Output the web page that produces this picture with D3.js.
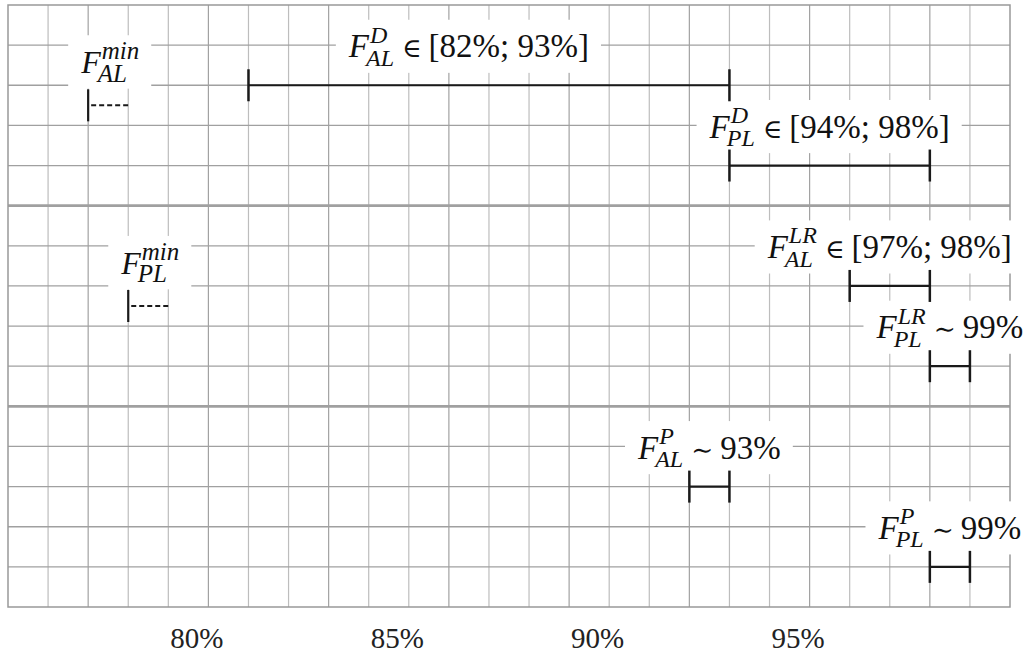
<!DOCTYPE html>
<html>
<head>
<meta charset="utf-8">
<script src="https://cdn.jsdelivr.net/npm/d3@7/dist/d3.min.js"></script>
<style>
  html, body { margin: 0; padding: 0; background: #fff; }
  svg { display: block; }
</style>
</head>
<body>
<svg id="chart" width="1023" height="653"></svg>
<script>
// ---------- data ----------
const xDomain = [75, 100];          // percent
const rowCount = 15;                // grid rows
const tickValues = [80, 85, 90, 95];
const tickLabels = ["80%", "85%", "90%", "95%"];

// interval bars
const barSub   = ["AL", "PL", "AL", "PL", "AL", "PL"];
const barSup   = ["D", "D", "LR", "LR", "P", "P"];
const barRel   = ["∈", "∈", "∈", "∼", "∼", "∼"];
const barText  = ["[82%; 93%]", "[94%; 98%]", "[97%; 98%]", "99%", "93%", "99%"];
const barStart = [81, 93, 96, 98, 92, 98];
const barEnd   = [93, 98, 98, 99, 93, 99];
const barRow   = [2, 4, 7, 9, 12, 14];
const barLabelShift = [-0.5, 0, 0, 0, 0, 0];   // label centre offset (percent units)

// minimum markers (dashed)
const minSub   = ["AL", "PL"];
const minStart = [77, 78];
const minEnd   = [78, 79];
const minRow   = [2.5, 7.5];

// ---------- layout ----------
const svg = d3.select("#chart");
const x = d3.scaleLinear().domain(xDomain).range([8, 1010]);
const y = d3.scaleLinear().domain([0, rowCount]).range([5, 607]);

const serif = "'Liberation Serif', 'Times New Roman', serif";

// grid
const grid = svg.append("g");
grid.selectAll("line.v")
  .data(d3.range(xDomain[0] + 1, xDomain[1]))
  .join("line")
  .attr("x1", d => x(d)).attr("x2", d => x(d))
  .attr("y1", y(0)).attr("y2", y(rowCount))
  .attr("stroke", (d, i) => (i % 3 === 1 ? "#a2a2a2" : "#bdbdbd"))
  .attr("stroke-width", 1.2);
grid.selectAll("line.h")
  .data(d3.range(1, rowCount))
  .join("line")
  .attr("x1", x(xDomain[0])).attr("x2", x(xDomain[1]))
  .attr("y1", d => y(d)).attr("y2", d => y(d))
  .attr("stroke", "#a0a0a0")
  .attr("stroke-width", d => (d % 5 === 0 ? 2.6 : 1.3));
grid.append("rect")
  .attr("x", x(xDomain[0])).attr("y", y(0))
  .attr("width", x(xDomain[1]) - x(xDomain[0]))
  .attr("height", y(rowCount) - y(0))
  .attr("fill", "none").attr("stroke", "#999").attr("stroke-width", 1.5);

// axis (tick labels only)
const axis = d3.axisBottom(x)
  .tickValues(tickValues)
  .tickFormat((d, i) => tickLabels[i])
  .tickSize(0);
const axG = svg.append("g").attr("transform", `translate(0, ${y(rowCount)})`).call(axis);
axG.select(".domain").remove();
axG.selectAll("text")
  .attr("font-family", serif)
  .attr("font-size", 29)
  .attr("fill", "#222")
  .attr("dy", 0)
  .attr("y", 41)
  .attr("dx", -12);

// label builder
const labelLayer = svg.append("g");
function drawLabel(cx, baseline, sub, sup, rel, txt, big, small) {
  const g = labelLayer.append("g");
  const F = g.append("text").attr("font-family", serif).attr("font-style", "italic")
    .attr("font-size", big).attr("fill", "#111").text("F");
  const wF = F.node().getComputedTextLength();
  const supT = g.append("text").attr("font-family", serif).attr("font-style", "italic")
    .attr("font-size", small).attr("fill", "#111")
    .attr("x", wF + 1).attr("y", -big * 0.44).text(sup);
  const subT = g.append("text").attr("font-family", serif).attr("font-style", "italic")
    .attr("font-size", small).attr("fill", "#111")
    .attr("x", wF - 3).attr("y", big * 0.26).text(sub);
  let end = Math.max(wF + 1 + supT.node().getComputedTextLength(),
                     wF - 3 + subT.node().getComputedTextLength());
  if (rel) {
    const r = g.append("text").attr("font-family", "'DejaVu Serif', serif")
      .attr("font-size", big * 0.8).attr("fill", "#111")
      .attr("x", end + 8).text(rel);
    end = end + 8 + r.node().getComputedTextLength();
    const t = g.append("text").attr("font-family", serif)
      .attr("font-size", big).attr("fill", "#111")
      .attr("x", end + 7).text(txt);
    end = end + 7 + t.node().getComputedTextLength();
  }
  g.attr("transform", `translate(${cx - end / 2}, ${baseline})`);
  const bb = g.node().getBBox();
  g.insert("rect", ":first-child")
    .attr("x", bb.x - 12).attr("y", bb.y - 2)
    .attr("width", bb.width + 24).attr("height", bb.height + 4)
    .attr("fill", "#fff");
}

// bars data table
const bars = barStart.map((s, i) => ({
  s, e: barEnd[i], row: barRow[i], sub: barSub[i], sup: barSup[i],
  rel: barRel[i], txt: barText[i], shift: barLabelShift[i]
}));
const mins = minStart.map((s, i) => ({ s, e: minEnd[i], row: minRow[i], sub: minSub[i] }));

bars.forEach(b => drawLabel(x((b.s + b.e) / 2 + b.shift), y(b.row) - 28, b.sub, b.sup, b.rel, b.txt, 33, 24));
mins.forEach(m => drawLabel(x((m.s + m.e) / 2) + 2, y(m.row) - 32, m.sub, "min", null, null, 32, 25));

// marks
const marks = svg.append("g").attr("stroke", "#1a1a1a");
const bg = marks.selectAll("g.bar").data(bars).join("g");
bg.append("line")
  .attr("x1", d => x(d.s)).attr("x2", d => x(d.e))
  .attr("y1", d => y(d.row)).attr("y2", d => y(d.row))
  .attr("stroke-width", 2.2);
bg.append("line")
  .attr("x1", d => x(d.s)).attr("x2", d => x(d.s))
  .attr("y1", d => y(d.row) - 16).attr("y2", d => y(d.row) + 16)
  .attr("stroke-width", 2.5);
bg.append("line")
  .attr("x1", d => x(d.e)).attr("x2", d => x(d.e))
  .attr("y1", d => y(d.row) - 16).attr("y2", d => y(d.row) + 16)
  .attr("stroke-width", 2.5);

const mg = marks.selectAll("g.min").data(mins).join("g");
mg.append("line")
  .attr("x1", d => x(d.s)).attr("x2", d => x(d.s))
  .attr("y1", d => y(d.row) - 16).attr("y2", d => y(d.row) + 16)
  .attr("stroke-width", 2.2);
mg.append("line")
  .attr("x1", d => x(d.s) + 3).attr("x2", d => x(d.e))
  .attr("y1", d => y(d.row)).attr("y2", d => y(d.row))
  .attr("stroke-width", 2)
  .attr("stroke-dasharray", "5,3");
</script>
</body>
</html>
